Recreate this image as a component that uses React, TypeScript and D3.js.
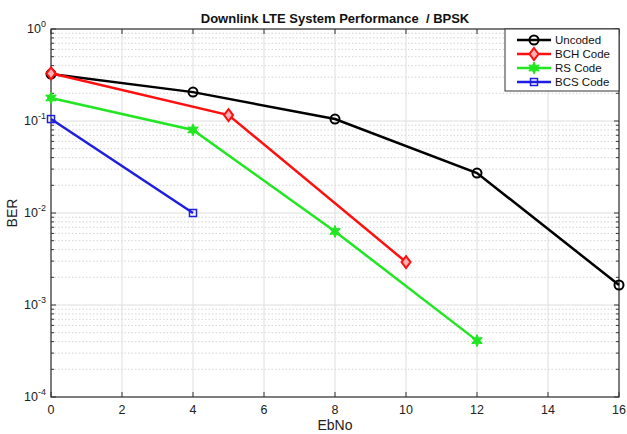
import React from "react";
import * as d3 from "d3";

const uncodedX = [0, 4, 8, 12, 16];
const uncodedBer = [0.324, 0.206, 0.105, 0.0272, 0.00165];
const bchX = [0, 5, 10];
const bchBer = [0.33, 0.116, 0.00293];
const rsX = [0, 4, 8, 12];
const rsBer = [0.178, 0.08, 0.0063, 0.00041];
const bcsX = [0, 4];
const bcsBer = [0.105, 0.01];

const seriesNames = ["Uncoded", "BCH Code", "RS Code", "BCS Code"];
const xTicks = [0, 2, 4, 6, 8, 10, 12, 14, 16];
const yDecades = [0, -1, -2, -3, -4];

const W = 627;
const H = 434;
const margin = { top: 29, right: 8, bottom: 37, left: 51 };
const font = "Arial, 'Liberation Sans', sans-serif";

const x = d3.scaleLinear().domain([0, 16]).range([margin.left, W - margin.right]);
const y = d3.scaleLog().domain([1e-4, 1]).range([H - margin.bottom, margin.top]);

const series = [
  { name: seriesNames[0], xs: uncodedX, ys: uncodedBer, color: "#000000", marker: "circle" },
  { name: seriesNames[1], xs: bchX, ys: bchBer, color: "#ff1010", marker: "diamond" },
  { name: seriesNames[2], xs: rsX, ys: rsBer, color: "#22e622", marker: "star" },
  { name: seriesNames[3], xs: bcsX, ys: bcsBer, color: "#1e1ee0", marker: "square" },
];

const starPath = (() => {
  const pts: string[] = [];
  for (let i = 0; i < 12; i++) {
    const r = i % 2 === 0 ? 6 : 3;
    const a = (Math.PI / 6) * i - Math.PI / 2;
    pts.push(`${(r * Math.cos(a)).toFixed(2)},${(r * Math.sin(a)).toFixed(2)}`);
  }
  return "M" + pts.join("L") + "Z";
})();

function Marker({ type, color, cx, cy }: { type: string; color: string; cx: number; cy: number }) {
  if (type === "circle")
    return <circle cx={cx} cy={cy} r={4.5} fill="none" stroke={color} strokeWidth={2} />;
  if (type === "diamond")
    return (
      <path
        transform={`translate(${cx},${cy})`}
        d="M0,-6L4.5,0L0,6L-4.5,0Z"
        fill="#ffb0b0"
        stroke={color}
        strokeWidth={2}
      />
    );
  if (type === "star")
    return <path transform={`translate(${cx},${cy})`} d={starPath} fill={color} stroke={color} strokeWidth={1} />;
  return <rect x={cx - 3.5} y={cy - 3.5} width={7} height={7} fill="none" stroke={color} strokeWidth={1.5} />;
}

export default function App() {
  const x0 = margin.left;
  const x1 = W - margin.right;
  const y0 = H - margin.bottom;
  const y1 = margin.top;

  const minorY: number[] = [];
  for (let d = -4; d < 0; d++) for (let m = 2; m <= 9; m++) minorY.push(m * Math.pow(10, d));

  const line = d3
    .line<[number, number]>()
    .x((d) => x(d[0]))
    .y((d) => y(d[1]));

  const legX = 505;
  const legY = 29;
  const legW = x1 - legX;
  const legH = 62;

  return (
    <div style={{ position: "absolute", left: 0, top: 0 }}>
      <svg width={W} height={H} style={{ display: "block", background: "#fff" }} fontFamily={font}>
        {/* minor grid */}
        {minorY.map((v, i) => (
          <line key={"mg" + i} x1={x0} x2={x1} y1={y(v)} y2={y(v)} stroke="#d4d4d4" strokeWidth={1} strokeDasharray="1.5,2" />
        ))}
        {/* major grid */}
        {yDecades.map((d) => (
          <line key={"gy" + d} x1={x0} x2={x1} y1={y(Math.pow(10, d))} y2={y(Math.pow(10, d))} stroke="#dedede" strokeWidth={1} />
        ))}
        {xTicks.map((t) => (
          <line key={"gx" + t} x1={x(t)} x2={x(t)} y1={y0} y2={y1} stroke="#dedede" strokeWidth={1} />
        ))}

        {/* ticks */}
        {xTicks.map((t) => (
          <g key={"tx" + t}>
            <line x1={x(t)} x2={x(t)} y1={y0} y2={y0 - 5} stroke="#333" />
            <line x1={x(t)} x2={x(t)} y1={y1} y2={y1 + 5} stroke="#333" />
            <text x={x(t)} y={y0 + 17} textAnchor="middle" fontSize={12.5} fill="#222">
              {t}
            </text>
          </g>
        ))}
        {yDecades.map((d) => (
          <g key={"ty" + d}>
            <line x1={x0} x2={x0 + 5} y1={y(Math.pow(10, d))} y2={y(Math.pow(10, d))} stroke="#333" />
            <line x1={x1} x2={x1 - 5} y1={y(Math.pow(10, d))} y2={y(Math.pow(10, d))} stroke="#333" />
            <text x={x0 - 5} y={y(Math.pow(10, d)) + 4} textAnchor="end" fontSize={12.5} fill="#222">
              10
              <tspan dy={-6} fontSize={9}>
                {d}
              </tspan>
            </text>
          </g>
        ))}
        {minorY.map((v, i) => (
          <g key={"mt" + i}>
            <line x1={x0} x2={x0 + 3} y1={y(v)} y2={y(v)} stroke="#333" />
            <line x1={x1} x2={x1 - 3} y1={y(v)} y2={y(v)} stroke="#333" />
          </g>
        ))}

        {/* axes box */}
        <rect x={x0} y={y1} width={x1 - x0} height={y0 - y1} fill="none" stroke="#333" strokeWidth={1.2} />

        {/* series */}
        {series.map((s) => {
          const pts = s.xs.map((v, i) => [v, s.ys[i]] as [number, number]);
          return (
            <g key={s.name}>
              <path d={line(pts) || ""} fill="none" stroke={s.color} strokeWidth={2.5} />
              {pts.map((p, i) => (
                <Marker key={i} type={s.marker} color={s.color} cx={x(p[0])} cy={y(p[1])} />
              ))}
            </g>
          );
        })}

        {/* legend */}
        <rect x={legX} y={legY} width={legW} height={legH} fill="#fff" stroke="#333" strokeWidth={1} />
        {series.map((s, i) => {
          const ly = legY + 11 + i * 14;
          return (
            <g key={"lg" + s.name}>
              <line x1={legX + 12} x2={legX + 46} y1={ly} y2={ly} stroke={s.color} strokeWidth={2.5} />
              <Marker type={s.marker} color={s.color} cx={legX + 29} cy={ly} />
              <text x={legX + 50} y={ly + 4} fontSize={11.5} fill="#111">
                {s.name}
              </text>
            </g>
          );
        })}

        {/* labels */}
        <text
          x={(x0 + x1) / 2}
          y={23}
          textAnchor="middle"
          fontSize={13}
          fontWeight="bold"
          fill="#111"
          style={{ whiteSpace: "pre" }}
        >
          {"Downlink LTE System Performance  / BPSK"}
        </text>
        <text x={(x0 + x1) / 2} y={430} textAnchor="middle" fontSize={14} fill="#222">
          EbNo
        </text>
        <text transform={`translate(17,${(y0 + y1) / 2}) rotate(-90)`} textAnchor="middle" fontSize={14} fill="#222">
          BER
        </text>
      </svg>
    </div>
  );
}
